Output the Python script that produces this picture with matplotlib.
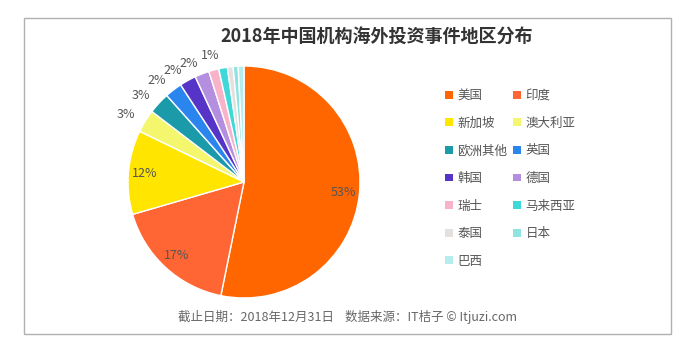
import numpy as np
import matplotlib
matplotlib.use("Agg")
import matplotlib.pyplot as plt
from matplotlib.patches import Patch, Rectangle

plt.rcParams['font.family'] = ['Noto Sans CJK SC', 'DejaVu Sans']

regions = ['美国', '印度', '新加坡', '澳大利亚', '欧洲其他', '英国', '韩国',
           '德国', '瑞士', '马来西亚', '泰国', '日本', '巴西']
shares = [53.2, 17.3, 11.7, 3.2, 3.0, 2.4, 2.3, 2.0, 1.4, 1.2, 0.8, 0.7, 0.8]
colors = ['#ff6600', '#ff6633', '#ffe500', '#f4f76e', '#1b9aaa', '#2b85ef',
          '#5634c8', '#b48fe0', '#f6b3c9', '#3ed8d8', '#e3e0de', '#8ee3e3', '#b7ecef']
inside = ['美国', '印度', '新加坡']
outside = ['澳大利亚', '欧洲其他', '英国', '韩国', '德国', '瑞士']

W, H = 681, 360
fig = plt.figure(figsize=(W / 100, H / 100), dpi=100)
fig.patch.set_facecolor('white')

# frame
fig.patches.append(Rectangle((24 / W, (H - 334) / H), 647 / W, 316 / H,
                             transform=fig.transFigure, fill=False,
                             edgecolor='#b0b0b0', linewidth=1))

cx, cy, r = 244, 182, 116
ax = fig.add_axes([(cx - r) / W, (H - cy - r) / H, 2 * r / W, 2 * r / H])
wedges, _ = ax.pie(shares, colors=colors, startangle=90, counterclock=False,
                   wedgeprops=dict(edgecolor='white', linewidth=1))
ax.set_aspect('equal')
ax.set_xlim(-1, 1)
ax.set_ylim(-1, 1)
ax.axis('off')

total = sum(shares)
for w, name, v in zip(wedges, regions, shares):
    mid = np.deg2rad((w.theta1 + w.theta2) / 2)
    pct = '%d%%' % round(v / total * 100)
    if name in inside:
        ax.text(0.86 * np.cos(mid), 0.86 * np.sin(mid), pct, ha='center',
                va='center', fontsize=9, color='#555555')
    elif name in outside:
        # the label nearest the top sits centred so it does not hit its neighbour
        ha = 'center' if name == outside[-1] else 'right'
        rr = 1.13 if ha == 'center' else 1.10
        ax.text(rr * np.cos(mid), rr * np.sin(mid), pct, ha=ha,
                va='center', fontsize=9, color='#555555', clip_on=False)

fig.text(377 / W, 1 - 37 / H, '2018年中国机构海外投资事件地区分布', ha='center',
         va='center', fontsize=13, fontweight='bold', color='#333333')

order = [0, 2, 4, 6, 8, 10, 12, 1, 3, 5, 7, 9, 11]
handles = [Patch(facecolor=colors[i], edgecolor='none') for i in order]
labels = [regions[i] for i in order]
fig.legend(handles, labels, ncol=2, loc='upper left',
           bbox_to_anchor=(445 / W, 1 - 89 / H), frameon=False, borderpad=0,
           borderaxespad=0, fontsize=9, labelcolor='#555555', handlelength=0.6,
           handleheight=0.6, handletextpad=0.4, columnspacing=0.45,
           labelspacing=1.17)

fig.text(347 / W, 1 - 317 / H, '截止日期：2018年12月31日    数据来源：IT桔子 © Itjuzi.com',
         ha='center', va='center', fontsize=9, color='#666666')

fig.savefig('out.png', dpi=100)
